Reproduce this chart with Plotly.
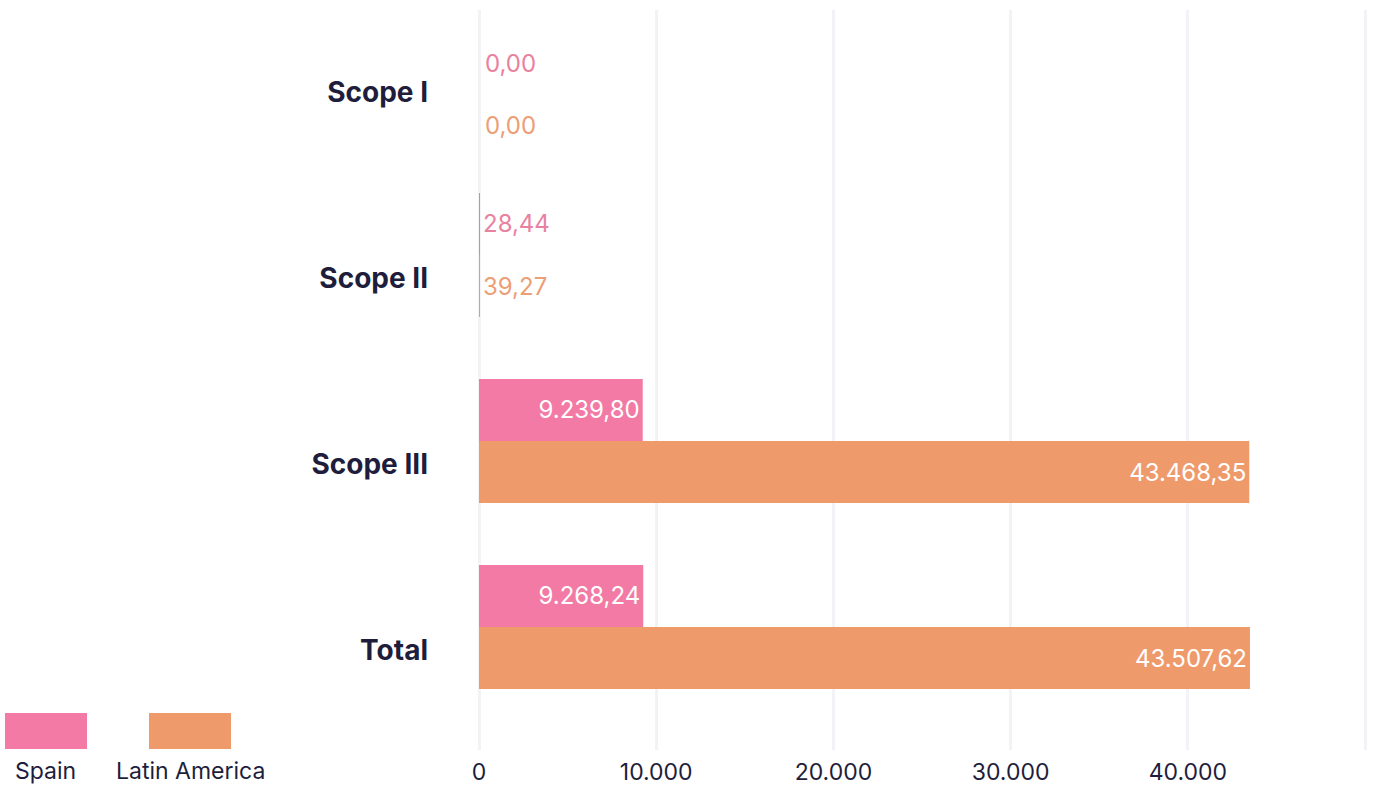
import plotly.graph_objects as go

categories = ["Scope I", "Scope II", "Scope III", "Total"]
spain = [0.00, 28.44, 9239.80, 9268.24]
latam = [0.00, 39.27, 43468.35, 43507.62]
series_names = ["Spain", "Latin America"]
tick_vals = [0, 10000, 20000, 30000, 40000, 50000]
tick_text = ["0", "10.000", "20.000", "30.000", "40.000", ""]

PINK = "#F27AA4"
ORANGE = "#EF9A6B"
PINK_TXT = "#E8829F"
ORANGE_TXT = "#EC9E76"
NAVY = "#1E1E3C"
GRID = "#F3F3F7"
FONT = "Inter, Lato, sans-serif"

W, H = 1378, 785
ML, MR, MT, MB = 479, 10, 10, 35
PW, PH = W - ML - MR, H - MT - MB
# category band: 186 px, first band centre at y=69 px
BAND, C0 = 186.0, 69.0
y_top = (MT - C0) / BAND
y_bot = (H - MB - C0) / BAND
x_max = 50000 * PW / 886.0

fig = go.Figure()
series = [(series_names[0], spain, PINK, PINK_TXT, 6), (series_names[1], latam, ORANGE, ORANGE_TXT, -56)]
for name, vals, col, tcol, _ in series:
    fig.add_trace(go.Bar(
        y=categories, x=vals, name=name, orientation="h",
        marker=dict(color=col, line=dict(width=0)),
        texttemplate="%{x:,.2f}", textposition="auto",
        insidetextanchor="end",
        insidetextfont=dict(color="white", size=24, family=FONT),
        outsidetextfont=dict(color=tcol, size=24, family=FONT),
        cliponaxis=False,
    ))

# plotly omits text on zero-length bars: add those labels as annotations
for name, vals, col, tcol, shift in series:
    for cat, v in zip(categories, vals):
        if v == 0:
            fig.add_annotation(x=v, y=cat, xref="x", yref="y", text=f"{v:.2f}".replace(".", ","),
                               showarrow=False, xanchor="left", yanchor="middle",
                               xshift=4, yshift=shift,
                               font=dict(size=24, color=tcol, family=FONT))

fig.update_layout(
    width=W, height=H,
    margin=dict(l=ML, r=MR, t=MT, b=MB, autoexpand=False),
    paper_bgcolor="white", plot_bgcolor="white",
    barmode="group", bargap=0.333, bargroupgap=0,
    separators=",.",
    showlegend=False,
    font=dict(family=FONT, color=NAVY),
    xaxis=dict(range=[0, x_max], tickvals=tick_vals, ticktext=tick_text,
               showgrid=True, gridcolor=GRID, gridwidth=3,
               zeroline=True, zerolinecolor=GRID, zerolinewidth=3,
               showline=False, automargin=False,
               tickfont=dict(size=23, color=NAVY, family=FONT),
               ticklabelstandoff=6),
    yaxis=dict(range=[y_bot, y_top], showgrid=False, zeroline=False, showline=False,
               automargin=False,
               tickfont=dict(size=28, color=NAVY, family=FONT, weight="bold"),
               ticklabelstandoff=50, ticklabelshift=-23),
)

# legend swatches drawn manually
legend_items = [(series_names[0], PINK, 5, 87, 45), (series_names[1], ORANGE, 149, 231, 190)]
for name, col, x0, x1, cx in legend_items:
    fig.add_shape(type="rect", xref="paper", yref="paper",
                  x0=(x0 - ML) / PW, x1=(x1 - ML) / PW,
                  y0=(H - MB - 749) / PH, y1=(H - MB - 713) / PH,
                  fillcolor=col, line=dict(width=0), layer="above")
    fig.add_annotation(text=name, xref="paper", yref="paper",
                       x=(cx - ML) / PW, y=(H - MB - 771) / PH,
                       showarrow=False, xanchor="center", yanchor="middle",
                       font=dict(size=23, color=NAVY, family=FONT))

fig.write_html("out.html", config={"displayModeBar": False},
               post_script="document.body.style.margin='0';document.body.style.padding='0';")
